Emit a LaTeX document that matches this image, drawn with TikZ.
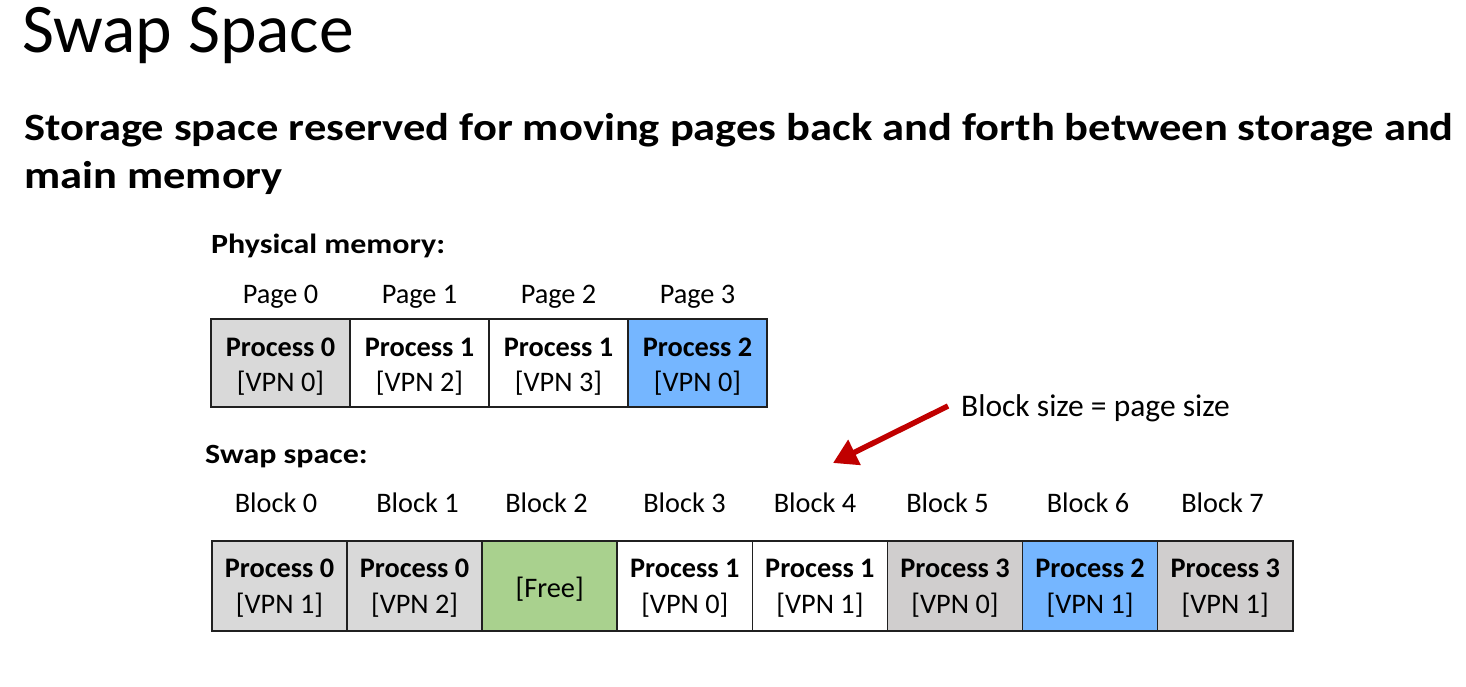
\documentclass[tikz,border=0pt]{standalone}
\usepackage{fontspec}
\setmainfont{Carlito}
% slightly widened face for the bold headings
\newfontfamily\headfont[FakeStretch=1.15]{Carlito}
\usetikzlibrary{arrows.meta}

\definecolor{cellgray}{HTML}{D9D9D9}
\definecolor{cellgraydk}{HTML}{D0CECE}
\definecolor{cellblue}{HTML}{75B6FF}
\definecolor{cellgreen}{HTML}{A9D18E}
\definecolor{arrowred}{HTML}{C00000}
\definecolor{edgeline}{HTML}{202020}

\newcommand\fsz[2]{\fontsize{#1}{#2}\selectfont}

\begin{document}
\begin{tikzpicture}[x=1pt,y=-1pt,
  cell/.style={draw=edgeline, line width=1.6pt, inner sep=0pt},
  pcell/.style={cell, minimum width=139pt, minimum height=88pt},
  scell/.style={cell, minimum width=135.1pt, minimum height=90pt},
  celltext/.style={inner sep=0pt, align=center, font=\fsz{28.3}{35}},
  swaptext/.style={celltext, font=\fsz{28.3}{36}},
  lbl/.style={font=\fsz{28.3}{32}, inner sep=0pt, anchor=base},
  head/.style={font=\headfont\bfseries\fsz{27.8}{32}, inner sep=0pt, anchor=base west},
]
\useasboundingbox (0,0) rectangle (1466,686);

% headings
\node[inner sep=0pt, anchor=base west, font=\fsz{69.6}{76}] (title) at (22,52) {Swap Space};
\node[inner sep=0pt, anchor=base west, align=left, font=\headfont\bfseries\fsz{38.7}{48}] (sub) at (24,188)
  {Storage space reserved for moving pages back and forth between storage and\\main memory};

% physical memory
\node[head] (physhead) at (211,253) {Physical memory:};
\foreach \i/\t in {0/Page 0,1/Page 1,2/Page 2,3/Page 3}
  \node[lbl] (page\i) at (280.5+139*\i,303) {\t};
\node[pcell, fill=cellgray]  (p0) at (280.5,363) {};
\node[pcell, fill=white]     (p1) at (419.5,363) {};
\node[pcell, fill=white]     (p2) at (558.5,363) {};
\node[pcell, fill=cellblue]  (p3) at (697.5,363) {};
\node[celltext] (p0t) at ([yshift=-4pt]p0.center) {\textbf{Process 0}\\{}[VPN 0]};
\node[celltext] (p1t) at ([yshift=-4pt]p1.center) {\textbf{Process 1}\\{}[VPN 2]};
\node[celltext] (p2t) at ([yshift=-4pt]p2.center) {\textbf{Process 1}\\{}[VPN 3]};
\node[celltext] (p3t) at ([yshift=-4pt]p3.center) {\textbf{Process 2}\\{}[VPN 0]};

% swap space
\node[head] (swaphead) at (205,463) {Swap space:};
\foreach \i/\x in {0/276,1/417.5,2/546.5,3/684.5,4/815,5/947.5,6/1088,7/1222.5}
  \node[lbl] (block\i) at (\x,512.5) {Block \i};
\node[scell, fill=cellgray]   (s0) at (279.5,586)  {};
\node[scell, fill=cellgray]   (s1) at (414.6,586)  {};
\node[scell, fill=cellgreen]  (s2) at (549.7,586)  {};
\node[scell, fill=white]      (s3) at (684.8,586)  {};
\node[scell, fill=white]      (s4) at (819.9,586)  {};
\node[scell, fill=cellgraydk] (s5) at (955.0,586)  {};
\node[scell, fill=cellblue]   (s6) at (1090.1,586) {};
\node[scell, fill=cellgraydk] (s7) at (1225.2,586) {};
\node[swaptext] (s0t) at ([yshift=-2.5pt]s0.center) {\textbf{Process 0}\\{}[VPN 1]};
\node[swaptext] (s1t) at ([yshift=-2.5pt]s1.center) {\textbf{Process 0}\\{}[VPN 2]};
\node[swaptext] (s2t) at ([yshift=-3pt]s2.center)   {[Free]};
\node[swaptext] (s3t) at ([yshift=-2.5pt]s3.center) {\textbf{Process 1}\\{}[VPN 0]};
\node[swaptext] (s4t) at ([yshift=-2.5pt]s4.center) {\textbf{Process 1}\\{}[VPN 1]};
\node[swaptext] (s5t) at ([yshift=-2.5pt]s5.center) {\textbf{Process 3}\\{}[VPN 0]};
\node[swaptext] (s6t) at ([yshift=-2.5pt]s6.center) {\textbf{Process 2}\\{}[VPN 1]};
\node[swaptext] (s7t) at ([yshift=-2.5pt]s7.center) {\textbf{Process 3}\\{}[VPN 1]};

% annotation
\node[inner sep=0pt, anchor=base west, font=\fsz{31.5}{36}] (note) at (961,416) {Block size = page size};
\coordinate (tail) at (948,406);
\coordinate (tip) at (833,463);
\draw[arrowred, line width=5.5pt, -{Triangle[length=24pt,width=27pt]}] (tail) -- (tip);
\end{tikzpicture}
\end{document}
